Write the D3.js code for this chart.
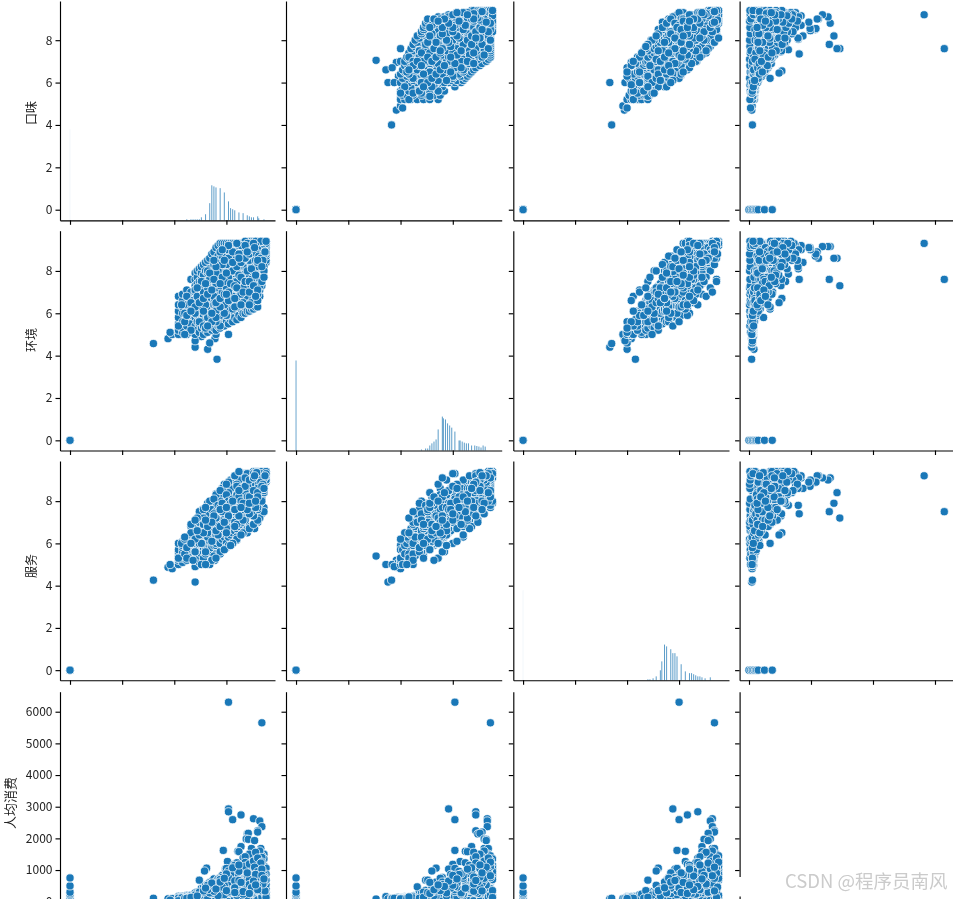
<!DOCTYPE html>
<html>
<head>
<meta charset="utf-8">
<script src="https://cdn.jsdelivr.net/npm/d3@7"></script>
<style>
html,body{margin:0;padding:0;background:#fff;overflow:hidden}
svg{display:block;filter:blur(0.3px)}
text{font-family:"Noto Sans CJK SC","Noto Sans",sans-serif}
</style>
</head>
<body>
<svg id="chart" width="953" height="899"></svg>
<script>
const varNames = ["口味","环境","服务","人均消费"];
const ratingTicks = [0,2,4,6,8];
const priceTicks = [0,1000,2000,3000,4000,5000,6000];
const xRatingTicks = [0,2.5,5,7.5];
const xPriceTicks = [0,2000,4000,6000];

// one entry per shop, same position in each of the four arrays
const taste = [
0,0,0,0,0,0,0,0,0,
7.05,6.6,6.0,4.0,4.7,4.9,5.25,5.2,6.95,6.7,6.3,7.6,7.0,6.0,
5.2,5.2,5.2,5.2,5.2,5.2,5.2,
5.4,5.4,5.4,5.4,5.4,5.4,5.4,
5.6,5.6,5.6,5.6,5.6,5.6,5.6,
5.8,5.8,5.8,5.8,5.8,5.8,5.8,
6.0,6.0,6.0,6.0,6.0,6.0,6.0,6.0,6.0,6.0,
6.1,6.1,6.1,6.1,6.1,6.1,6.1,6.1,6.1,6.1,
6.2,6.2,6.2,6.2,6.2,6.2,6.2,6.2,6.2,6.2,
6.3,6.3,6.3,6.3,6.3,6.3,6.3,6.3,6.3,6.3,
6.4,6.4,6.4,6.4,6.4,6.4,6.4,6.4,6.4,6.4,
6.5,6.5,6.5,6.5,6.5,6.5,6.5,6.5,6.5,6.5,
6.6,6.6,6.6,6.6,6.6,6.6,6.6,6.6,6.6,6.6,
6.7,6.7,6.7,6.7,6.7,6.7,6.7,6.7,6.7,6.7,
6.8,6.8,6.8,6.8,6.8,6.8,6.8,6.8,6.8,6.8,
6.9,6.9,6.9,6.9,6.9,6.9,6.9,6.9,6.9,6.9,
7.0,7.0,7.0,7.0,7.0,7.0,7.0,7.0,7.0,7.0,
7.1,7.1,7.1,7.1,7.1,7.1,7.1,7.1,7.1,7.1,
7.2,7.2,7.2,7.2,7.2,7.2,7.2,7.2,7.2,7.2,
7.3,7.3,7.3,7.3,7.3,7.3,7.3,7.3,7.3,7.3,
7.4,7.4,7.4,7.4,7.4,7.4,7.4,7.4,7.4,7.4,
7.5,7.5,7.5,7.5,7.5,7.5,7.5,7.5,7.5,7.5,
7.6,7.6,7.6,7.6,7.6,7.6,7.6,7.6,7.6,7.6,
7.7,7.7,7.7,7.7,7.7,7.7,7.7,7.7,7.7,7.7,
7.8,7.8,7.8,7.8,7.8,7.8,7.8,7.8,7.8,7.8,
7.9,7.9,7.9,7.9,7.9,7.9,7.9,7.9,7.9,7.9,
8.0,8.0,8.0,8.0,8.0,8.0,8.0,8.0,8.0,8.0,
8.1,8.1,8.1,8.1,8.1,8.1,8.1,8.1,8.1,8.1,
8.2,8.2,8.2,8.2,8.2,8.2,8.2,8.2,8.2,8.2,
8.3,8.3,8.3,8.3,8.3,8.3,8.3,8.3,8.3,8.3,
8.4,8.4,8.4,8.4,8.4,8.4,8.4,8.4,8.4,8.4,
8.5,8.5,8.5,8.5,8.5,8.5,8.5,8.5,8.5,8.5,
8.6,8.6,8.6,8.6,8.6,8.6,8.6,8.6,8.6,8.6,
8.7,8.7,8.7,8.7,8.7,8.7,8.7,8.7,8.7,8.7,
8.8,8.8,8.8,8.8,8.8,8.8,8.8,8.8,8.8,8.8,
8.9,8.9,8.9,8.9,8.9,8.9,8.9,8.9,8.9,8.9,
9.0,9.0,9.0,9.0,9.0,9.0,9.0,9.0,9.0,9.0,
9.1,9.1,9.1,9.1,9.1,9.1,9.1,9.1,9.1,9.1,
9.2,9.2,9.2,9.2,9.2,9.2,9.2,9.2,9.2,9.2,
9.3,9.3,9.3,9.3,9.3,9.3,9.3,9.3,9.3,9.3,
9.4,9.4,9.4,9.4,9.4,9.4,9.4,9.4,9.4,9.4,
6.35,7.0,7.7,6.6,7.3,7.4,7.9,8.2,7.0,6.2,5.35,
6.3,6.9,8.0,8.85,9.0,8.5,7.5,9.2,9.3,7.2,
5.2,5.6,5.9,6.2,6.5,6.8,7.1,7.4,7.7,8.0,8.3,8.6,8.9,9.2,9.4,9.0,7.5,6.0,5.5,4.8,
7.6,9.2,7.6,7.6,8.2,8.8,7.8,9.1,9.2,9.0,9.0,8.5,8.55,8.45,8.55,8.85,8.2,8.7,9.15,7.35,8.05,8.1,8.3,7.55,7.87,8.9,6.55,6.45,6.2,7.45,7.5,7.3,
9.3,9.2,9.1,9.3,9.0,9.2,8.8,8.6,8.9,8.4,8.0,7.9,
6.0,6.3,6.6,7.0,7.3,7.6,8.0,8.4,6.8,7.1,7.5,7.9,8.3,8.7,5.6,5.9,6.5,8.9,
5.8,6.2,6.6,7.0,7.3,7.7,8.1,8.5,6.4,6.8,7.2,7.6,8.0,8.4,8.8,5.5,7.0,7.5,
6.8,7.2,7.6,8.0,8.3,8.6,8.9,9.1,9.3,7.0,7.4,7.8,8.2,8.6,8.8,9.0,6.5,7.7,
5.5,5.8,6.1,6.4,6.7,7.0,7.3,7.6,7.9,8.1,6.0,6.5,6.9,7.2,7.5,
8.9,8.7,8.8,9.0,9.1,8.6,8.5,8.4,8.8,9.0,8.3,8.7,
7.8,7.4,7.0,6.6,8.2,7.6,7.2,6.8,8.0,7.5,7.1,6.4,
7.4,7.0,6.7,7.8,8.2,8.5,7.2,7.6,8.0,8.4,6.9,7.3,
7.6,7.8,8.0,8.2,8.4,8.6,8.8,9.0,9.2,7.4,7.7,8.1,
9.3,9.2,9.3,9.1,9.2,9.35,9.0,9.4,9.25,9.15,9.3,9.4,
8.9,9.0,9.1,8.8,8.95,9.05,9.3,9.15,8.85,9.35,9.25,9.0,
7.0,7.3,7.6,7.9,8.2,8.5,6.6,6.9,7.2,7.5,7.8,8.1,
6.0,6.2,6.4,6.6,6.8,7.0,7.2,7.4,5.6,5.8,6.1,6.5,
8.0,8.4,8.7,9.0,7.5,7.9,8.3,8.6,8.9,9.2,8.1,8.5,
8.6,8.8,9.0,9.2,8.3,8.7,7.9,8.2,8.6,9.0,9.3,8.9
];
const environment = [
0,0,0,0,0,0,0,0,0,
3.83,4.3,4.4,4.57,4.8,5.0,5.0,5.2,4.8,4.6,4.9,5.0,5.0,4.7,
5.0,5.2,5.5,5.8,6.1,6.4,6.8,
5.1,5.3,5.6,6.0,6.3,6.6,6.9,
5.0,5.4,5.7,6.1,6.4,6.8,7.1,
5.1,5.5,5.9,6.2,6.6,7.0,7.6,
5.0,5.4,5.8,6.1,6.4,6.7,7.0,7.3,7.6,7.9,
5.2,5.6,5.9,6.2,6.5,6.8,7.1,7.4,7.7,8.0,
5.1,5.5,5.8,6.0,6.3,6.6,6.9,7.2,7.5,8.1,
5.3,5.7,6.1,6.4,6.7,7.0,7.3,7.6,7.9,8.2,
5.0,5.4,5.9,6.2,6.5,6.8,7.1,7.4,7.8,8.3,
5.2,5.6,6.0,6.3,6.6,6.9,7.2,7.5,8.0,8.4,
5.1,5.5,5.8,6.1,6.4,6.7,7.0,7.4,7.9,8.5,
5.3,5.7,6.0,6.3,6.6,6.9,7.2,7.6,8.1,8.6,
5.2,5.6,5.9,6.2,6.5,6.8,7.1,7.5,8.0,8.8,
5.3,5.8,6.1,6.4,6.7,7.0,7.3,7.7,8.3,8.9,
5.2,5.6,6.0,6.4,6.8,7.2,7.6,8.0,8.5,9.1,
5.4,5.8,6.2,6.6,7.0,7.4,7.8,8.2,8.7,9.2,
5.3,5.7,6.1,6.5,6.9,7.3,7.7,8.1,8.6,9.3,
5.5,5.9,6.3,6.7,7.1,7.5,7.9,8.3,8.8,9.3,
5.4,5.8,6.2,6.6,7.0,7.4,7.8,8.2,8.9,9.3,
5.6,6.0,6.4,6.8,7.2,7.6,8.0,8.4,9.0,9.3,
5.5,5.9,6.3,6.7,7.1,7.5,7.9,8.3,8.8,9.3,
5.7,6.1,6.5,6.9,7.3,7.7,8.1,8.5,9.0,9.3,
5.6,6.0,6.4,6.8,7.2,7.6,8.0,8.4,8.9,9.3,
5.8,6.2,6.6,7.0,7.4,7.8,8.2,8.6,9.1,9.3,
5.7,6.1,6.5,6.9,7.3,7.7,8.1,8.5,9.0,9.3,
5.9,6.3,6.7,7.1,7.5,7.9,8.3,8.7,9.1,9.3,
5.8,6.2,6.6,7.0,7.4,7.8,8.2,8.6,9.0,9.3,
6.0,6.4,6.8,7.2,7.6,8.0,8.4,8.8,9.2,9.3,
6.0,6.3,6.7,7.1,7.5,7.9,8.3,8.7,9.1,9.3,
6.1,6.5,6.9,7.3,7.7,8.1,8.5,8.9,9.3,9.3,
6.1,6.4,6.8,7.2,7.6,8.0,8.4,8.8,9.2,9.4,
6.2,6.6,7.0,7.4,7.8,8.2,8.6,9.0,9.3,9.4,
6.2,6.5,6.9,7.3,7.7,8.1,8.5,8.9,9.2,9.4,
6.3,6.7,7.1,7.5,7.9,8.3,8.7,9.1,9.3,9.4,
6.3,6.6,7.0,7.4,7.8,8.2,8.6,9.0,9.2,9.4,
6.8,7.1,7.5,7.9,8.3,8.7,9.1,9.2,9.3,9.4,
7.3,7.5,7.7,8.1,8.5,8.9,9.1,9.2,9.3,9.4,
7.7,8.0,8.2,8.4,8.7,9.0,9.2,9.3,9.4,9.4,
8.4,8.5,8.7,8.8,8.9,9.1,9.2,9.3,9.4,9.4,
7.2,7.5,8.0,7.4,7.9,8.5,8.3,8.6,7.6,6.8,6.4,
5.6,5.7,6.3,6.6,7.2,6.6,5.9,7.6,8.2,5.4,
5.4,5.9,6.1,6.4,6.6,6.9,7.2,7.3,7.6,8.0,8.2,8.5,8.8,9.1,9.4,9.2,7.0,6.5,5.6,5.1,
7.6,9.3,7.3,8.6,8.6,9.15,7.6,9.15,9.15,8.6,8.9,8.7,8.8,9.0,9.1,9.1,8.4,9.0,9.2,7.6,8.1,8.2,8.5,7.85,7.5,9.3,6.7,6.5,6.2,7.3,7.6,7.0,
9.2,9.3,9.0,9.4,9.3,8.8,8.9,8.8,8.5,8.6,8.1,8.3,
7.1,7.5,8.0,8.4,8.7,9.0,9.3,9.4,7.7,8.0,8.3,8.7,9.0,9.3,6.8,6.6,7.0,9.4,
5.2,5.6,5.8,6.2,6.5,6.9,7.2,7.6,5.4,5.9,6.0,6.4,6.8,7.0,7.5,5.0,5.6,5.9,
5.6,5.9,6.2,6.6,6.9,7.2,7.5,7.7,8.0,6.1,6.4,6.8,7.0,7.7,8.0,8.2,5.3,7.2,
6.0,6.5,6.8,7.0,7.6,7.9,8.3,8.6,8.9,9.2,6.0,6.4,6.8,7.3,7.7,
7.0,6.9,7.4,6.9,7.3,7.0,6.7,6.8,7.9,7.7,7.2,7.6,
6.2,6.0,5.8,5.4,6.9,6.6,6.3,6.0,7.5,7.2,6.6,6.1,
8.5,8.2,7.9,8.9,9.2,9.3,8.9,9.2,9.3,9.2,8.5,9.0,
7.7,8.0,8.2,8.4,8.6,8.8,9.0,9.2,9.3,7.5,7.4,7.8,
9.3,9.4,9.2,9.3,9.2,9.35,9.1,9.3,9.0,9.4,8.9,9.4,
9.2,9.0,8.8,9.3,8.8,8.7,8.8,8.6,9.1,8.9,8.5,8.4,
7.4,7.7,7.0,7.3,7.7,8.0,7.2,7.6,7.4,7.9,8.4,8.8,
6.3,6.5,6.7,6.9,7.1,6.5,6.7,6.9,5.9,6.1,7.2,7.4,
7.2,7.5,8.1,8.5,6.9,6.7,7.0,7.5,7.8,8.2,8.6,8.9,
7.0,7.3,7.1,7.5,6.5,6.5,6.3,6.4,6.4,6.6,7.7,6.8
];
const service = [
0,0,0,0,0,0,0,0,0,
5.4,5.0,4.17,4.26,4.87,4.8,5.1,5.0,5.2,5.0,5.1,5.9,5.7,4.9,
5.0,5.2,5.3,5.5,5.6,5.7,6.0,
5.1,5.3,5.4,5.6,5.8,5.9,6.1,
5.2,5.4,5.6,5.8,6.0,6.2,6.3,
5.3,5.5,5.7,5.9,6.2,6.4,6.8,
5.2,5.3,5.6,5.8,6.0,6.2,6.3,6.6,6.8,7.0,
5.4,5.7,5.5,6.1,5.9,6.4,6.5,6.7,6.9,7.1,
5.1,5.4,5.8,5.6,6.2,6.1,6.6,6.4,7.0,7.2,
5.6,5.9,5.5,6.3,6.0,6.7,6.5,7.1,6.9,7.3,
5.3,5.6,6.1,5.8,6.4,6.2,6.8,6.6,7.2,7.4,
5.5,5.9,6.2,5.7,6.5,6.3,6.9,6.7,7.3,7.5,
5.7,6.0,6.4,5.9,6.7,6.2,7.0,6.6,7.4,7.6,
5.8,6.2,5.6,6.6,6.1,7.0,6.5,7.3,6.9,7.7,
5.9,6.3,5.8,6.7,6.2,7.1,6.6,7.4,7.0,7.8,
6.0,6.4,5.9,6.8,6.3,7.2,6.7,7.5,7.1,7.9,
5.5,5.9,6.5,6.0,6.9,6.4,7.3,6.8,7.7,8.0,
6.2,6.6,6.1,7.0,6.5,7.4,6.9,7.8,7.2,8.1,
6.3,6.7,6.0,7.1,6.6,7.5,7.0,7.9,7.3,8.2,
6.4,6.8,6.2,7.2,6.7,7.6,7.1,8.0,7.4,8.3,
6.5,6.9,6.3,7.3,6.8,7.7,7.2,8.1,7.6,8.4,
6.0,7.0,6.4,7.4,6.9,7.8,7.3,8.2,7.8,8.5,
6.7,6.3,7.1,6.6,7.5,7.0,7.9,7.4,8.3,8.6,
6.8,6.4,7.2,6.7,7.6,7.1,8.0,7.5,8.4,8.7,
6.9,6.5,7.3,6.8,7.7,7.2,8.1,7.6,8.5,8.8,
7.0,6.6,7.4,6.9,7.8,7.3,8.2,7.7,8.6,8.9,
6.3,6.7,7.5,7.0,7.9,7.4,8.3,7.8,8.7,9.0,
7.2,6.8,7.6,7.1,8.0,7.5,8.4,7.9,8.8,9.1,
7.3,6.9,7.7,7.2,8.1,7.6,8.5,8.0,8.9,9.2,
7.4,7.0,7.8,7.3,8.2,7.7,8.6,8.1,9.0,9.3,
6.6,7.5,7.9,7.4,8.3,7.8,8.7,8.2,9.1,9.3,
6.7,7.6,8.0,7.5,8.4,7.9,8.8,8.3,9.2,9.3,
6.8,7.7,8.1,7.6,8.5,8.0,8.9,8.4,9.3,9.2,
6.8,7.8,8.2,7.7,8.6,8.1,9.0,8.5,9.3,9.1,
6.9,7.9,8.3,7.8,8.7,8.2,9.1,8.6,9.4,9.3,
6.9,8.0,8.4,7.9,8.8,8.3,9.2,8.7,9.3,9.4,
7.0,7.8,8.2,8.6,8.1,9.0,8.5,9.3,8.9,9.4,
7.2,8.0,8.4,8.8,8.3,9.1,8.6,9.3,9.0,9.4,
7.7,8.1,8.5,8.9,8.4,9.2,8.7,9.3,9.1,9.4,
8.4,8.5,8.8,8.6,9.2,8.9,9.3,9.1,9.3,9.4,
8.9,9.0,9.1,9.2,9.0,9.2,9.3,9.4,9.3,9.4,
7.6,8.35,9.0,7.9,8.6,8.8,9.2,9.3,8.2,7.5,6.0,
5.0,5.4,6.15,6.7,7.0,6.5,5.8,7.4,7.7,5.5,
5.3,5.7,6.0,6.2,6.6,6.8,7.0,7.3,7.6,7.9,8.1,8.6,8.8,9.0,9.4,9.2,7.1,6.1,5.5,5.0,
7.5,9.2,7.2,8.4,7.9,9.1,7.5,9.0,9.1,9.2,9.2,8.9,8.9,9.0,8.7,8.9,8.6,9.1,9.2,7.4,7.8,8.6,8.4,7.8,7.9,9.2,6.5,6.4,6.0,7.3,7.4,7.0,
9.3,9.4,9.1,9.3,9.2,9.0,9.0,8.7,8.8,8.5,8.3,8.0,
5.6,6.0,6.3,6.8,7.1,7.4,7.7,7.9,6.1,6.4,6.7,7.0,7.4,7.8,5.3,5.2,5.6,8.0,
6.5,7.0,7.4,7.9,8.2,8.6,9.0,9.3,7.2,7.6,8.0,8.4,8.8,9.1,9.3,6.2,7.5,7.9,
5.2,5.6,5.9,6.2,6.5,6.8,7.0,7.2,7.5,5.3,5.7,6.0,6.4,6.7,6.9,7.1,5.0,5.9,
6.3,6.9,7.2,7.6,8.0,8.3,8.6,8.9,9.2,9.4,7.1,7.7,8.1,8.5,8.8,
7.6,7.4,7.8,7.6,7.9,7.7,7.3,7.2,7.3,7.9,7.7,8.1,
7.8,7.4,7.0,6.5,8.3,7.9,7.5,7.1,8.7,8.3,7.8,6.9,
7.5,7.2,6.9,8.0,8.3,8.5,7.7,8.0,8.2,8.4,7.4,7.9,
7.8,8.1,8.3,8.6,8.7,9.0,9.1,9.3,9.4,7.6,7.9,8.2,
9.35,9.3,9.2,9.2,9.4,9.3,9.1,9.4,9.0,9.3,9.1,9.3,
9.3,9.2,9.0,9.1,9.35,8.8,8.7,8.9,9.2,9.2,8.8,8.6,
7.2,7.5,7.3,7.6,8.0,8.2,6.9,7.3,7.6,7.7,8.0,8.5,
6.2,6.4,6.5,6.8,7.0,6.6,6.8,7.0,5.8,6.0,6.6,7.1,
6.9,7.1,7.5,7.7,6.5,6.8,7.1,7.4,7.7,8.0,7.3,7.6,
8.2,8.5,8.4,8.7,7.9,7.9,7.6,7.7,7.9,8.2,8.6,8.0
];
const avgPrice = [
0,60,110,160,210,250,300,500,750,
85,160,90,110,90,100,140,120,120,100,140,110,130,110,
100,150,120,90,170,130,110,
110,140,180,120,100,160,130,
100,120,200,140,110,170,130,
110,130,210,160,120,190,140,
110,130,100,170,120,210,150,240,130,280,
100,150,120,190,140,260,110,300,170,220,
130,110,200,160,240,120,330,180,270,150,
110,170,140,230,120,290,190,360,150,420,
100,120,180,150,260,200,340,170,450,280,
120,160,130,220,300,170,380,240,520,330,
110,140,190,170,280,220,400,310,560,260,
130,110,210,180,320,250,470,190,610,350,
100,150,170,240,200,360,280,530,230,650,
120,190,140,270,220,410,320,580,400,720,
110,130,200,160,300,240,460,350,640,500,
140,180,120,260,210,390,280,550,720,430,
100,160,230,190,340,270,520,410,760,600,
130,120,210,290,180,440,310,620,480,830,
110,170,150,250,370,220,570,360,790,660,
140,120,230,190,320,480,280,690,530,900,
100,200,160,270,230,420,350,610,840,720,
130,110,250,180,390,290,560,440,950,780,
120,170,140,310,210,470,380,730,590,1020,
100,190,260,150,340,540,300,680,880,750,
140,120,220,280,180,430,610,360,920,1090,
110,160,200,320,250,500,400,790,640,1150,
130,180,150,290,370,220,580,460,1010,860,
100,140,240,190,430,310,680,530,1080,940,
120,170,210,350,270,490,390,760,1200,620,
150,110,260,190,400,320,600,850,1130,980,
130,200,160,310,240,540,450,720,1260,1040,
110,180,230,150,380,290,660,510,1180,900,
140,120,270,200,340,470,780,590,1300,1070,
100,190,160,300,230,420,620,880,1220,1010,
130,150,210,260,360,500,700,1090,960,1150,
120,180,140,280,220,440,800,1010,640,1120,
110,160,200,330,250,560,930,720,1170,850,
130,100,190,240,370,480,650,990,1140,790,
120,170,150,210,300,410,540,680,1060,870,
240,300,170,210,360,420,280,500,190,150,120,
130,160,210,270,330,190,140,280,350,110,
30,40,30,20,40,30,20,40,30,20,40,30,20,40,30,60,60,60,60,50,
6300,5650,2930,2840,2740,2620,2590,2550,2370,2240,2200,2140,2160,1980,1970,1930,1740,1680,1680,1620,1590,1580,1380,1270,1180,1120,1060,970,680,1030,1050,770,
1500,1450,1600,1350,1300,1400,1420,1500,1560,1420,1230,1150,
130,210,180,350,260,540,410,700,160,240,390,620,480,880,110,150,220,950,
100,170,140,280,230,420,360,560,120,200,300,260,510,640,780,90,170,330,
120,150,260,200,430,340,590,480,860,110,240,310,520,390,680,910,100,350,
100,130,200,150,320,240,460,300,650,740,110,180,270,380,520,
420,300,610,350,500,270,190,450,720,560,240,380,
360,220,470,150,540,310,680,260,800,430,190,300,
700,420,280,880,1020,1100,620,970,760,1240,330,530,
620,740,890,1000,1120,1190,1280,1380,1250,510,860,960,
240,180,320,410,150,260,530,200,680,350,590,130,
900,740,1040,820,460,630,780,1220,1090,340,560,950,
560,460,760,660,590,810,380,480,700,880,1070,1160,
210,300,340,520,590,400,620,740,110,140,180,430,
280,520,430,780,350,440,620,700,860,1030,670,910,
540,650,480,830,320,440,290,610,260,380,720,530
];

// histogram bins (bin value, shop count) for the three rating columns
const tasteBins = [0,5.6,5.8,5.9,6.0,6.1,6.2,6.3,6.5,6.7,6.8,6.9,7.0,7.2,7.4,7.6,7.7,7.8,7.9,8.1,8.3,8.5,8.6,8.7,8.8,9.0,9.05,9.3];
const tasteCounts = [2550,28,28,28,28,28,28,84,170,480,980,950,920,900,780,530,340,310,280,220,200,140,110,84,84,110,56,28];
const envBins = [0,6.0,6.2,6.3,6.4,6.5,6.6,6.7,6.8,7.0,7.05,7.15,7.25,7.35,7.45,7.6,7.8,7.85,7.95,8.05,8.15,8.25,8.4,8.55,8.65,8.75,8.85,8.95,9.05];
const envCounts = [2520,28,56,56,140,200,250,310,590,950,900,870,760,700,640,530,280,280,250,220,200,200,140,140,126,110,84,140,110];
const serviceBins = [0,6.0,6.1,6.25,6.4,6.6,6.67,6.8,6.9,7.1,7.2,7.3,7.4,7.6,7.8,8.0,8.1,8.2,8.3,8.4,8.5,8.6,8.75,9.0];
const serviceCounts = [2520,28,28,56,110,280,530,1000,950,870,760,760,670,450,250,200,200,170,140,110,110,84,56,84];

const watermark = "CSDN @程序员南风";

const columns = [taste, environment, service, avgPrice];
const histData = [[tasteBins,tasteCounts],[envBins,envCounts],[serviceBins,serviceCounts]];
const zeroBarOpacity = [0.06,0.65,0.06];

const xScales = [
  d3.scaleLinear().domain([-0.48,9.83]).range([60,275]),
  d3.scaleLinear().domain([-0.48,9.84]).range([286,501.7]),
  d3.scaleLinear().domain([-0.47,9.9]).range([513.3,729]),
  d3.scaleLinear().domain([-303,6581]).range([739.6,953])
];
const yScales = [
  d3.scaleLinear().domain([-0.5,9.85]).range([220.3,1]),
  d3.scaleLinear().domain([-0.48,9.9]).range([450.5,230.7]),
  d3.scaleLinear().domain([-0.48,9.9]).range([680.3,461]),
  d3.scaleLinear().domain([-325,6632]).range([912,691.7])
];
const histY = [220.3,450.5,680.3].map(b => d3.scaleLinear().domain([0,6160]).range([b,b-220]));

const svg = d3.select("#chart");
const indices = d3.range(taste.length);

for (let r=0;r<4;r++){
  for (let c=0;c<4;c++){
    const x = xScales[c], y = yScales[r];
    const g = svg.append("g");
    if (r===c){
      if (c<3){
        const [bins,counts] = histData[c];
        g.selectAll("rect").data(bins).join("rect")
          .attr("x",(d)=>x(d)-0.5)
          .attr("width",1)
          .attr("y",(d,i)=>histY[c](counts[i]))
          .attr("height",(d,i)=>histY[c](0)-histY[c](counts[i]))
          .attr("fill","#1f77b4")
          .attr("fill-opacity",(d,i)=>i===0?zeroBarOpacity[c]:0.72);
      }
    } else {
      g.selectAll("circle").data(indices).join("circle")
        .attr("cx",i=>x(columns[c][i]))
        .attr("cy",i=>y(columns[r][i]))
        .attr("r",4.1)
        .attr("fill","#1a78b8")
        .attr("stroke","#fff")
        .attr("stroke-width",0.75);
    }
    const ay = d3.axisLeft(y)
      .tickValues(r<3?ratingTicks:priceTicks)
      .tickSizeInner(4.5).tickSizeOuter(0).tickPadding(3)
      .tickFormat(c===0?d3.format("d"):"");
    const axY = svg.append("g").attr("transform",`translate(${x.range()[0]},0)`).call(ay);
    const ax = d3.axisBottom(x)
      .tickValues(c<3?xRatingTicks:xPriceTicks)
      .tickSizeInner(4.5).tickSizeOuter(0).tickFormat("");
    const axX = svg.append("g").attr("transform",`translate(0,${y.range()[0]})`).call(ax);
    [axY,axX].forEach(a=>{
      a.selectAll("path,line").attr("stroke","#000").attr("stroke-width",1.15);
      a.selectAll("text").attr("font-size",12).attr("fill","#222")
        .style("font-family",'"Noto Sans CJK SC",sans-serif');
    });
  }
}

// row titles
const rowLabels = [[32,113],[32,340],[32,566],[11,803]];
varNames.forEach((name,i)=>{
  svg.append("text")
    .attr("transform",`translate(${rowLabels[i][0]+4},${rowLabels[i][1]}) rotate(-90)`)
    .attr("text-anchor","middle")
    .attr("font-size",i===3?13:12)
    .attr("fill","#222")
    .text(name);
});

// watermark patch
svg.append("rect").attr("x",735).attr("y",877).attr("width",218).attr("height",19.5).attr("fill","#fff");
svg.append("text").attr("x",785).attr("y",888).attr("font-size",18.5).attr("fill","#cbcbcb").text(watermark);
</script>
</body>
</html>
